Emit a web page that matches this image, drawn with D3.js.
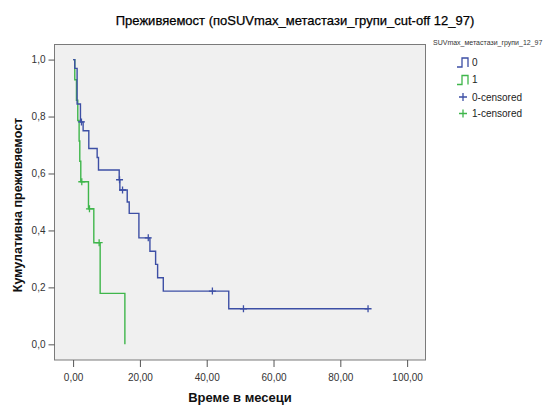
<!DOCTYPE html>
<html>
<head>
<meta charset="utf-8">
<script src="https://cdn.jsdelivr.net/npm/d3@7"></script>
<style>
  html, body { margin: 0; padding: 0; background: #ffffff; }
  svg { display: block; }
  text { font-family: "Liberation Sans", Arial, sans-serif; }
</style>
</head>
<body>
<svg id="chart" width="548" height="405"></svg>
<script>
// ---- Data ----
const chartTitle = "Преживяемост (поSUVmax_метастази_групи_cut-off 12_97)";
const xAxisTitle = "Време в месеци";
const yAxisTitle = "Кумулативна преживяемост";
const legendTitle = "SUVmax_метастази_групи_12_97";
const groupLabels = ["0", "1", "0-censored", "1-censored"];

const xTicks = [0, 20, 40, 60, 80, 100];
const yTicks = [0, 0.2, 0.4, 0.6, 0.8, 1.0];

// group 0 step function (event times, survival after each step)
const group0Times = [0, 0.5, 1.2, 2.2, 3.0, 4.7, 7.2, 7.6, 13.8, 14.0, 16.2, 16.8, 19.7, 23.0, 24.7, 25.3, 27.0, 46.6, 88.3];
const group0Surv  = [1.0, 0.969, 0.844, 0.781, 0.75, 0.688, 0.656, 0.612, 0.578, 0.542, 0.50, 0.46, 0.374, 0.327, 0.281, 0.234, 0.187, 0.125, 0.125];
const group0CensTimes = [2.5, 13.9, 14.8, 22.5, 41.7, 51.0, 88.3];
const group0CensSurv  = [0.781, 0.578, 0.542, 0.374, 0.187, 0.125, 0.125];

// group 1 step function
const group1Times = [0, 0.5, 1.0, 1.4, 1.8, 2.0, 2.3, 4.6, 6.2, 8.1, 15.5];
const group1Surv  = [1.0, 0.929, 0.857, 0.786, 0.714, 0.643, 0.571, 0.476, 0.357, 0.179, 0.0];
const group1CensTimes = [2.6, 4.9, 7.8];
const group1CensSurv  = [0.571, 0.476, 0.357];

// ---- Styling ----
const blue = "#3d4fa5";
const green = "#3fb64b";
const frameColor = "#7a7a7a";

const svg = d3.select("#chart");

const plot = { left: 54.5, right: 425.5, top: 44.5, bottom: 360 };

const x = d3.scaleLinear().domain([-5.57, 105.5]).range([plot.left, plot.right]);
const y = d3.scaleLinear().domain([-0.055, 1.053]).range([plot.bottom, plot.top]);

// plot background
svg.append("rect")
  .attr("x", plot.left).attr("y", plot.top)
  .attr("width", plot.right - plot.left).attr("height", plot.bottom - plot.top)
  .attr("fill", "#f0f0f0")
  .attr("stroke", frameColor).attr("stroke-width", 1);

const fmt = d => d3.format(".2f")(d).replace(".", ",");
const fmtY = d => d3.format(".1f")(d).replace(".", ",");

// axes
const xAxis = svg.append("g")
  .attr("transform", `translate(0,${plot.bottom})`)
  .call(d3.axisBottom(x).tickValues(xTicks).tickFormat(fmt).tickSize(7).tickSizeOuter(0).tickPadding(7));
const yAxis = svg.append("g")
  .attr("transform", `translate(${plot.left},0)`)
  .call(d3.axisLeft(y).tickValues(yTicks).tickFormat(fmtY).tickSize(6).tickSizeOuter(0).tickPadding(3));

[xAxis, yAxis].forEach(a => {
  a.select(".domain").remove();
  a.selectAll(".tick line").attr("stroke", "#555").attr("stroke-width", 1);
  a.selectAll(".tick text")
    .attr("fill", "#333")
    .style("font-family", "'Liberation Sans', Arial, sans-serif")
    .style("font-size", "10px");
});

// step lines
const line = d3.line()
  .x(d => x(d[0]))
  .y(d => y(d[1]))
  .curve(d3.curveStepAfter);

const g1 = group1Times.map((t, i) => [t, group1Surv[i]]);
const g0 = group0Times.map((t, i) => [t, group0Surv[i]]);

svg.append("path").datum(g1)
  .attr("d", line).attr("fill", "none")
  .attr("stroke", green).attr("stroke-width", 1.4);
svg.append("path").datum(g0)
  .attr("d", line).attr("fill", "none")
  .attr("stroke", blue).attr("stroke-width", 1.4);

// censored marks
function plus(sel, cx, cy, color, s) {
  sel.append("path")
    .attr("d", `M${cx - s},${cy}H${cx + s}M${cx},${cy - s}V${cy + s}`)
    .attr("stroke", color).attr("stroke-width", 1.3).attr("fill", "none");
}
const cens = svg.append("g");
group1CensTimes.forEach((t, i) => plus(cens, x(t), y(group1CensSurv[i]), green, 3.5));
group0CensTimes.forEach((t, i) => plus(cens, x(t), y(group0CensSurv[i]), blue, 3.5));

// titles
svg.append("text")
  .attr("x", 295).attr("y", 25)
  .attr("text-anchor", "middle")
  .style("font-size", "13px")
  .attr("fill", "#000")
  .attr("stroke", "#000").attr("stroke-width", 0.25)
  .text(chartTitle);

svg.append("text")
  .attr("x", 240).attr("y", 402)
  .attr("text-anchor", "middle")
  .style("font-size", "13px").style("font-weight", "bold")
  .attr("fill", "#111")
  .text(xAxisTitle);

svg.append("text")
  .attr("transform", "translate(22,205) rotate(-90)")
  .attr("text-anchor", "middle")
  .style("font-size", "12.5px").style("font-weight", "bold")
  .attr("fill", "#111")
  .text(yAxisTitle);

// legend
const leg = svg.append("g");
leg.append("text")
  .attr("x", 433).attr("y", 45)
  .style("font-size", "7px").attr("fill", "#333")
  .text(legendTitle);

const legendColors = [blue, green];
[0, 1].forEach(i => {
  const cy = 62 + i * 17.5;
  leg.append("path")
    .attr("d", `M457,${cy + 5}H462V${cy - 4}H468V${cy + 5}`)
    .attr("fill", "none").attr("stroke", legendColors[i]).attr("stroke-width", 1.3);
  leg.append("text")
    .attr("x", 472).attr("y", cy + 3.5)
    .style("font-size", "10px").attr("fill", "#222")
    .text(groupLabels[i]);
});
[0, 1].forEach(i => {
  const cy = 97 + i * 16.5;
  plus(leg, 463, cy, legendColors[i], 4);
  leg.append("text")
    .attr("x", 472).attr("y", cy + 3.5)
    .style("font-size", "10px").attr("fill", "#222")
    .text(groupLabels[i + 2]);
});
</script>
</body>
</html>
